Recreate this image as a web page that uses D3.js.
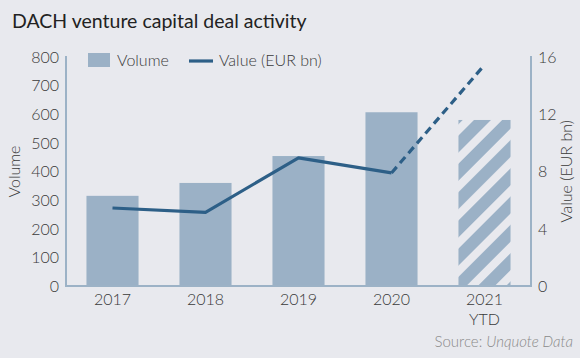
<!DOCTYPE html>
<html><head><meta charset="utf-8">
<script src="https://cdn.jsdelivr.net/npm/d3@7"></script>
<style>
html,body{margin:0;padding:0;background:#e8e9ee;}
svg{display:block;font-family:Lato,"Open Sans",sans-serif;}
</style></head>
<body><svg id="c" width="580" height="358"></svg>
<script>
const categories = ["2017","2018","2019","2020","2021"];
const catLabels = [["2017"],["2018"],["2019"],["2020"],["2021","YTD"]];
const volume = [315, 360, 454, 607, 580];
const value = [5.45, 5.15, 8.95, 7.9, 15.45];
const volTicks = [0,100,200,300,400,500,600,700,800];
const valTicks = [0,4,8,12,16];

const svg = d3.select("#c");
const L = 66, R = 531, T = 57, B = 286;
const axisCol = "#9cb2c6", barCol = "#9bb1c6", lineCol = "#2d5f87", txt = "#3a3a3a";
const LW = 300;

const defs = svg.append("defs");
const pat = defs.append("pattern").attr("id","hatch").attr("patternUnits","userSpaceOnUse")
  .attr("width",20).attr("height",20).attr("patternTransform","rotate(45)");
pat.append("rect").attr("x",0).attr("y",0).attr("width",12).attr("height",20).attr("fill",barCol);

svg.append("text").attr("x",12).attr("y",28).attr("font-size",19.5).attr("fill","#222")
  .text("DACH venture capital deal activity");

const x = d3.scaleBand().domain(categories).range([L,R]).paddingInner(0.44).paddingOuter(0.22);
const yL = d3.scaleLinear().domain([0,800]).range([B,T]);
const yR = d3.scaleLinear().domain([0,16]).range([B,T]);

svg.selectAll("rect.bar").data(categories).enter().append("rect").attr("class","bar")
  .attr("x",d=>x(d)).attr("width",x.bandwidth())
  .attr("y",(d,i)=>yL(volume[i])).attr("height",(d,i)=>B-yL(volume[i]))
  .attr("fill",(d,i)=> i===4 ? "url(#hatch)" : barCol);

const ax = svg.append("g").attr("stroke",axisCol).attr("stroke-width",2).attr("fill","none");
ax.append("path").attr("d",`M${L},${T-1}V${B}H${R}V${T-1}`);

svg.append("g").selectAll("text").data(volTicks).enter().append("text")
  .attr("x",59).attr("y",d=>yL(d)).attr("dy","0.36em").attr("text-anchor","end")
  .attr("font-size",16).attr("font-weight",LW).attr("fill",txt).text(d=>d);
svg.append("g").selectAll("text").data(valTicks).enter().append("text")
  .attr("x",538).attr("y",d=>yR(d)).attr("dy","0.36em").attr("text-anchor","start")
  .attr("font-size",16).attr("font-weight",LW).attr("fill",txt).text(d=>d);
const xl = svg.append("g").selectAll("text").data(categories).enter().append("text")
  .attr("x",d=>x(d)+x.bandwidth()/2).attr("y",305).attr("text-anchor","middle")
  .attr("font-size",16).attr("font-weight",LW).attr("fill",txt);
xl.selectAll("tspan").data((d,i)=>catLabels[i]).enter().append("tspan")
  .attr("x",function(){return this.parentNode.getAttribute("x");})
  .attr("dy",(d,i)=>i===0?0:20).text(d=>d);

svg.append("text").attr("transform",`translate(20,${(T+B)/2}) rotate(-90)`).attr("text-anchor","middle")
  .attr("font-size",16).attr("font-weight",LW).attr("fill",txt).text("Volume");
svg.append("text").attr("transform",`translate(561,${(T+B)/2}) rotate(-90)`).attr("text-anchor","middle")
  .attr("font-size",16).attr("font-weight",LW).attr("fill",txt).attr("dy","0.7em").text("Value (EUR bn)");

const cx = (i)=>x(categories[i])+x.bandwidth()/2;
const line = d3.line().x(d=>cx(d)).y(d=>yR(value[d]));
svg.append("path").attr("d",line([0,1,2,3])).attr("fill","none").attr("stroke",lineCol).attr("stroke-width",3.2).attr("stroke-linejoin","round");
svg.append("path").attr("d",line([3,4])).attr("fill","none").attr("stroke",lineCol).attr("stroke-width",3.2).attr("stroke-dasharray","8,5");

svg.append("rect").attr("x",88).attr("y",53).attr("width",22).attr("height",14).attr("fill",barCol);
svg.append("text").attr("x",117).attr("y",60).attr("dy","0.36em").attr("font-size",16).attr("font-weight",LW).attr("fill",txt).text("Volume");
svg.append("line").attr("x1",189).attr("x2",213).attr("y1",61).attr("y2",61).attr("stroke",lineCol).attr("stroke-width",3.2);
svg.append("text").attr("x",219).attr("y",60).attr("dy","0.36em").attr("font-size",16).attr("font-weight",LW).attr("fill",txt).text("Value (EUR bn)");

const s = svg.append("text").attr("x",573).attr("y",347).attr("text-anchor","end").attr("font-size",15).attr("font-weight",LW).attr("fill","#8a8a8a");
s.append("tspan").text("Source: ");
s.append("tspan").attr("font-style","italic").text("Unquote Data");
</script></body></html>
